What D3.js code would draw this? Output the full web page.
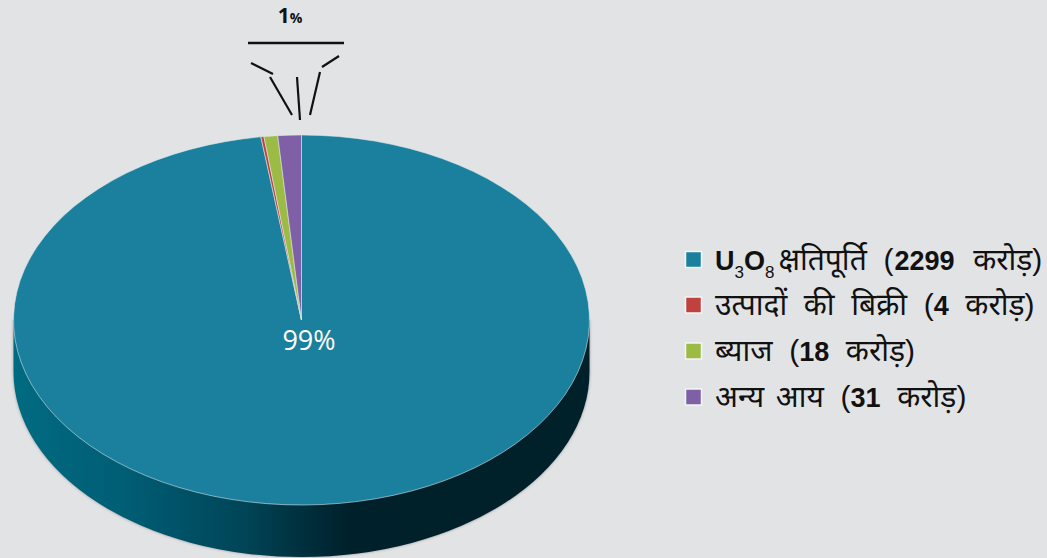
<!DOCTYPE html>
<html>
<head>
<meta charset="utf-8">
<script src="https://cdnjs.cloudflare.com/ajax/libs/d3/7.8.5/d3.min.js"></script>
<style>
html, body { margin: 0; padding: 0; background: #e1e3e5; }
svg { display: block; }
text { font-family: "Liberation Sans", "Noto Sans", sans-serif; }
</style>
</head>
<body>
<div id="chart"></div>
<script>
const values = [2299, 4, 18, 31];
const colors = ["#1a809e", "#c0423f", "#9bbb45", "#7f5fa5"];
// legend rows: runs of [text, kind, nudge]; b = bold latin, s = subscript, t = plain hindi
const legendRows = [
    [["U", "b"], ["3", "s"], ["O", "b"], ["8", "s"], ["क्षतिपूर्ति  (", "t", 4], ["2299", "b", 1], ["  करोड़)", "t", 2]],
    [["उत्पादों  की  बिक्री  (", "t"], ["4", "b"], ["  करोड़)", "t"]],
    [["ब्याज  (", "t"], ["18", "b"], ["  करोड़)", "t"]],
    [["अन्य  ", "t"], ["आय  (", "t", -5], ["31", "b"], ["  करोड़)", "t"]]
];
const legendY = [259.5, 305, 351, 397];
const bigLabel = "99%";
const smallLabel = ["1", "%"];

const width = 1047,
    height = 558,
    cx = 301.5,
    cy = 320,
    rx = 288,
    ry = 185,
    depth = 52;

const svg = d3.select("#chart")
    .append("svg")
    .attr("width", width)
    .attr("height", height)
    .attr("viewBox", [0, 0, width, height]);

const defs = svg.append("defs");

const grad = defs.append("linearGradient")
    .attr("id", "side")
    .attr("gradientUnits", "userSpaceOnUse")
    .attr("x1", cx - rx).attr("x2", cx + rx)
    .attr("y1", 0).attr("y2", 0);
[[0, "#006b82"], [0.2, "#005d74"], [0.4, "#004557"], [0.5, "#00303e"], [0.58, "#00212b"], [1, "#00202a"]]
    .forEach(s => grad.append("stop").attr("offset", s[0]).attr("stop-color", s[1]));

defs.append("filter")
    .attr("id", "soft")
    .attr("x", "-5%").attr("y", "-5%").attr("width", "110%").attr("height", "110%")
    .append("feGaussianBlur")
    .attr("stdDeviation", 1.6);

// the rim below the disc
const sidePath = `M${cx - rx},${cy} L${cx - rx},${cy + depth} A${rx},${ry} 0 0 0 ${cx + rx},${cy + depth} L${cx + rx},${cy} Z`;

svg.append("path")
    .attr("d", sidePath)
    .attr("fill", "#55585a")
    .attr("opacity", 0.55)
    .attr("filter", "url(#soft)");

svg.append("path")
    .attr("d", sidePath)
    .attr("fill", "url(#side)");

// disc: d3 pie squashed into an ellipse
const pie = d3.pie().sort(null)(values);
const arc = d3.arc().innerRadius(0).outerRadius(rx);

const disc = svg.append("g")
    .attr("transform", `translate(${cx},${cy}) scale(1,${ry / rx})`);

disc.selectAll("path")
    .data(pie)
    .join("path")
    .attr("d", arc)
    .attr("fill", (d, i) => colors[i])
    .attr("stroke", "#dfe8ea")
    .attr("stroke-width", 0.7)
    .attr("stroke-linejoin", "round");

svg.append("text")
    .attr("x", 309)
    .attr("y", 350)
    .attr("text-anchor", "middle")
    .attr("fill", "#fff")
    .style("font-family", "'Open Sans', sans-serif")
    .style("font-size", "27px")
    .text(bigLabel);

// 1% callout
const small = svg.append("text")
    .attr("x", 290)
    .attr("y", 23)
    .attr("text-anchor", "middle")
    .attr("fill", "#111")
    .style("font-family", "'Open Sans', sans-serif")
    .style("font-weight", 700);
small.append("tspan").style("font-size", "21px").text(smallLabel[0]);
small.append("tspan").style("font-size", "14px").text(smallLabel[1]);

const callout = [
    [248, 43, 344, 43, 2.6],
    [251, 63, 273, 74, 2.2],
    [270, 77, 292, 115, 2.2],
    [297, 77, 300, 120, 2.2],
    [320, 72, 310, 115, 2.2],
    [339, 56, 322, 67, 2.2]
];
svg.append("g").selectAll("line")
    .data(callout)
    .join("line")
    .attr("x1", d => d[0]).attr("y1", d => d[1])
    .attr("x2", d => d[2]).attr("y2", d => d[3])
    .attr("stroke", "#111")
    .attr("stroke-width", d => d[4]);

// legend
const legend = svg.append("g").selectAll("g")
    .data(legendRows)
    .join("g")
    .attr("transform", (d, i) => `translate(685,${legendY[i]})`);

legend.append("rect")
    .attr("x", 0.5)
    .attr("y", -8)
    .attr("width", 16)
    .attr("height", 16)
    .attr("fill", (d, i) => colors[i])
    .attr("stroke", "#f4f5f6")
    .attr("stroke-width", 1.5);

const sizes = {b: "27px", s: "17px", t: "30px"};

const rowText = legend.append("text")
    .attr("x", 30)
    .attr("y", 10)
    .attr("fill", "#111")
    .style("white-space", "pre");

rowText.selectAll("tspan")
    .data(d => d)
    .join("tspan")
    .style("font-weight", d => d[1] == "b" ? 700 : 400)
    .style("font-size", d => sizes[d[1]])
    .attr("dx", d => d[2] || 0)
    .attr("dy", (d, i, n) => d[1] == "s" ? 8 : (i > 0 && n[i - 1].__data__[1] == "s" ? -8 : 0))
    .text(d => d[0]);
</script>
</body>
</html>
